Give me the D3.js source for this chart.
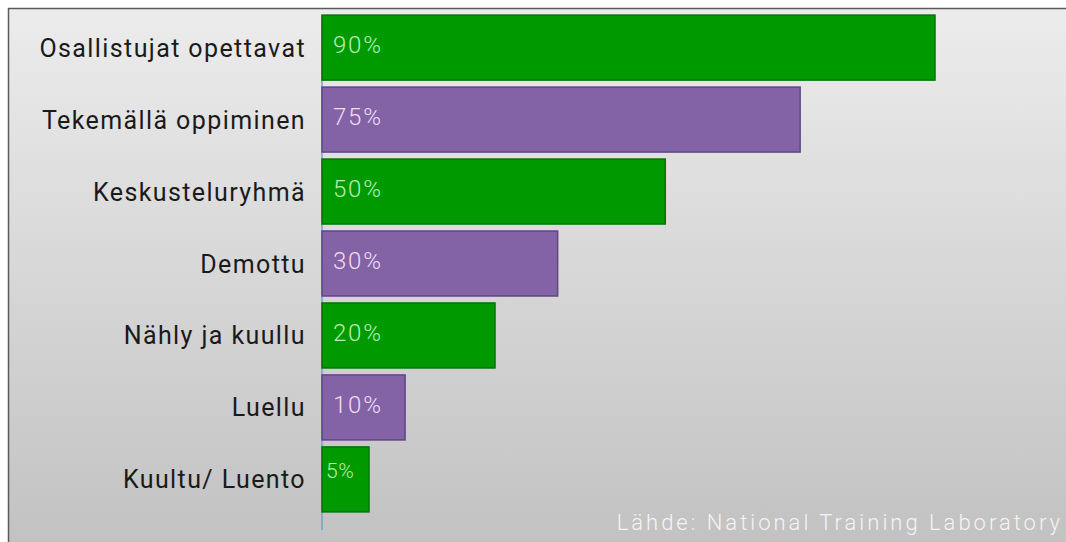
<!DOCTYPE html>
<html>
<head>
<meta charset="utf-8">
<script src="https://cdn.jsdelivr.net/npm/d3@7"></script>
<style>
  html, body { margin: 0; padding: 0; background: #ffffff; }
  svg { display: block; }
</style>
</head>
<body>
<svg id="chart" width="1066" height="542"></svg>
<script>
// ---- data ----
const categories = ["Osallistujat opettavat", "Tekemällä oppiminen", "Keskusteluryhmä", "Demottu", "Nähly ja kuullu", "Luellu", "Kuultu/ Luento"];
const percentLabels = ["90%", "75%", "50%", "30%", "20%", "10%", "5%"];
// drawn bar length (same units as the 90% bar) (not to scale with label)
const barLengths = [90, 70.2, 50.4, 34.6, 25.4, 12.2, 6.9];
const barKinds = ["g", "p", "g", "p", "g", "p", "g"];
const sourceText = "Lähde: National Training Laboratory";

const W = 1066, H = 542;
const svg = d3.select("#chart");

const defs = svg.append("defs");
const bg = defs.append("linearGradient").attr("id", "bg").attr("x1", 0).attr("y1", 0).attr("x2", 0).attr("y2", 1);
bg.append("stop").attr("offset", "0%").attr("stop-color", "#ececec");
bg.append("stop").attr("offset", "100%").attr("stop-color", "#c2c2c2");

// panel
svg.append("rect").attr("x", 8).attr("y", 8).attr("width", W - 8).attr("height", H - 8).attr("fill", "url(#bg)");
svg.append("line").attr("x1", 8).attr("x2", W).attr("y1", 8.5).attr("y2", 8.5).attr("stroke", "#5a5a5a").attr("stroke-width", 1.5);
svg.append("line").attr("x1", 8.5).attr("x2", 8.5).attr("y1", 8).attr("y2", H).attr("stroke", "#5a5a5a").attr("stroke-width", 1.5);

const x0 = 322;
const x = d3.scaleLinear().domain([0, 90]).range([x0, 935]);
const y = d3.scaleBand().domain(categories).range([11.5, 515.5]).paddingInner(0.097).paddingOuter(0.05);

const fills = { g: "#009a00", p: "#8462a6" };
const strokes = { g: "#00740a", p: "#5f4784" };
const textFills = { g: "#b6f0b0", p: "#f2dcf2" };

// axis line
svg.append("line").attr("x1", x0).attr("x2", x0).attr("y1", y(categories[0])).attr("y2", 530)
  .attr("stroke", "#6aa6c8").attr("stroke-width", 1.5);

const rows = svg.append("g").selectAll("g").data(categories).join("g");

rows.append("rect")
  .attr("x", x(0))
  .attr("y", d => y(d))
  .attr("width", (d, i) => x(barLengths[i]) - x(0))
  .attr("height", y.bandwidth())
  .attr("fill", (d, i) => fills[barKinds[i]])
  .attr("stroke", (d, i) => strokes[barKinds[i]])
  .attr("stroke-width", 1.5);

rows.append("text")
  .attr("x", 306)
  .attr("y", d => y(d) + y.bandwidth() / 2)
  .attr("dy", "0.36em")
  .attr("text-anchor", "end")
  .attr("font-family", "Roboto, 'DejaVu Sans', sans-serif")
  .attr("font-size", 25)
  .attr("letter-spacing", 1.4)
  .attr("fill", "#1a1a1a")
  .text(d => d);

rows.append("text")
  .attr("x", (d, i) => i === 6 ? x0 + 4 : x0 + 11)
  .attr("y", (d, i) => y(categories[i]) + y.bandwidth() / 2 - (i === 6 ? 9 : 3))
  .attr("dy", "0.36em")
  .attr("font-family", "Roboto, 'DejaVu Sans', sans-serif")
  .attr("font-weight", 300)
  .attr("font-size", (d, i) => i === 6 ? 21 : 24)
  .attr("letter-spacing", (d, i) => i === 6 ? 0.6 : 1.8)
  .attr("fill", (d, i) => textFills[barKinds[i]])
  .text((d, i) => percentLabels[i]);

svg.append("text")
  .attr("x", 1063)
  .attr("y", 530)
  .attr("text-anchor", "end")
  .attr("font-family", "Roboto, 'DejaVu Sans', sans-serif")
  .attr("font-weight", 300)
  .attr("font-size", 22)
  .attr("letter-spacing", 3)
  .attr("fill", "#f4f4f4")
  .text(sourceText);
</script>
</body>
</html>
